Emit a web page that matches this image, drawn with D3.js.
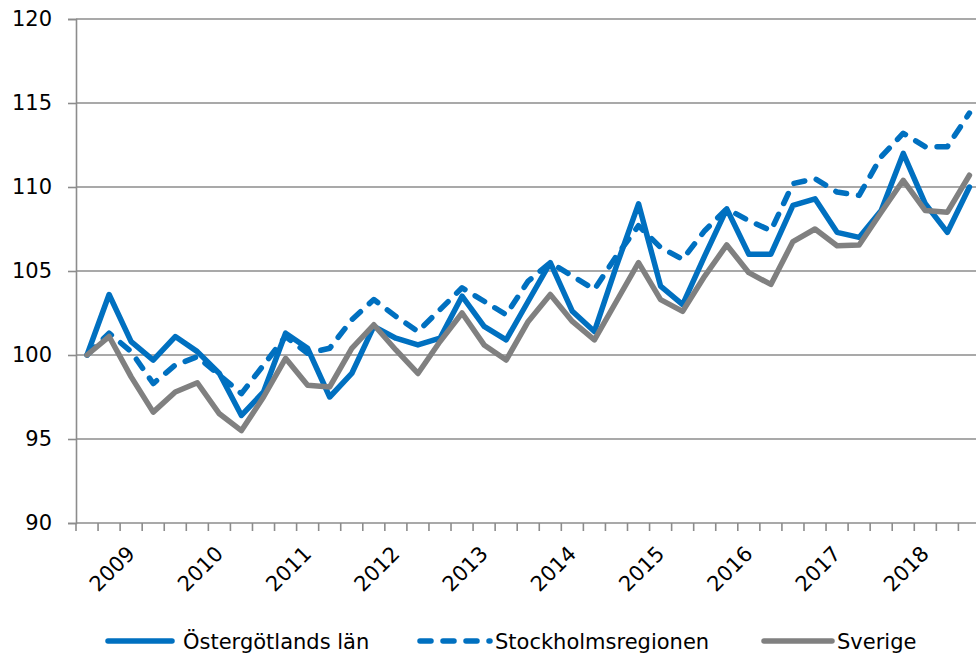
<!DOCTYPE html>
<html>
<head>
<meta charset="utf-8">
<script src="https://cdn.jsdelivr.net/npm/d3@7"></script>
<style>
  html, body { margin: 0; padding: 0; background: #ffffff; }
  svg { display: block; }
  text { font-family: "DejaVu Sans", sans-serif; fill: #000; }
</style>
</head>
<body>
<svg id="chart" width="976" height="656"></svg>
<script>
// Quarterly categories (2009 K1 .. 2019 K1)
const categories = [
  "2009K1","2009K2","2009K3","2009K4",
  "2010K1","2010K2","2010K3","2010K4",
  "2011K1","2011K2","2011K3","2011K4",
  "2012K1","2012K2","2012K3","2012K4",
  "2013K1","2013K2","2013K3","2013K4",
  "2014K1","2014K2","2014K3","2014K4",
  "2015K1","2015K2","2015K3","2015K4",
  "2016K1","2016K2","2016K3","2016K4",
  "2017K1","2017K2","2017K3","2017K4",
  "2018K1","2018K2","2018K3","2018K4",
  "2019K1"
];

const ostergotland = [
  100.0, 103.6, 100.8, 99.7,
  101.1, 100.2, 98.9, 96.4,
  97.8, 101.3, 100.4, 97.5,
  98.9, 101.7, 101.0, 100.6,
  101.0, 103.5, 101.7, 100.9,
  103.2, 105.5, 102.6, 101.4,
  105.3, 109.0, 104.1, 103.0,
  105.9, 108.7, 106.0, 106.0,
  108.9, 109.3, 107.3, 107.0,
  108.6, 112.0, 109.0, 107.3,
  110.0
];

const stockholm = [
  100.0, 101.3, 100.2, 98.3,
  99.4, 99.9, 98.8, 97.7,
  99.4, 101.1, 100.1, 100.4,
  102.1, 103.3, 102.3, 101.4,
  102.7, 104.0, 103.2, 102.4,
  104.4, 105.5, 104.7, 103.9,
  105.9, 107.7, 106.4, 105.7,
  107.4, 108.7, 108.0, 107.4,
  110.2, 110.5, 109.7, 109.5,
  111.8, 113.2, 112.4, 112.4,
  114.4
];

const sverige = [
  100.0, 101.1, 98.7, 96.6,
  97.8, 98.35, 96.5, 95.5,
  97.5, 99.8, 98.2, 98.1,
  100.4, 101.8, 100.3, 98.9,
  100.8, 102.5, 100.6, 99.7,
  102.0, 103.6, 102.0, 100.9,
  103.2, 105.5, 103.3, 102.6,
  104.7, 106.55, 104.9, 104.2,
  106.75, 107.5, 106.5, 106.55,
  108.5, 110.4, 108.6, 108.5,
  110.7
];

const yearLabels = ["2009","2010","2011","2012","2013","2014","2015","2016","2017","2018"];
const yearLabelCategories = ["2009K3","2010K3","2011K3","2012K3","2013K3","2014K3","2015K3","2016K3","2017K3","2018K3"];
const yTicks = [90, 95, 100, 105, 110, 115, 120];

const seriesNames = ["Östergötlands län", "Stockholmsregionen", "Sverige"];

// ---- drawing ----
const svg = d3.select("#chart");
const plotLeft = 76, plotTop = 19, plotBottom = 523;
const step = 22.06;
const plotRight = plotLeft + step * categories.length;

const x = d3.scaleBand().domain(categories).range([plotLeft, plotRight]).paddingInner(0).paddingOuter(0);
const y = d3.scaleLinear().domain([90, 120]).range([plotBottom, plotTop]);
const cx = c => x(c) + x.bandwidth() / 2;

const gridColor = "#8c8c8c";

// horizontal gridlines
svg.append("g").selectAll("line").data(yTicks.filter(v => v > 90)).join("line")
  .attr("x1", plotLeft).attr("x2", 976)
  .attr("y1", d => y(d)).attr("y2", d => y(d))
  .attr("stroke", gridColor).attr("stroke-width", 1.6);

// y axis
const yAxis = d3.axisLeft(y).tickValues(yTicks).tickSize(8).tickPadding(16).tickFormat(d3.format("d"));
const gy = svg.append("g").attr("transform", `translate(${plotLeft},0)`).call(yAxis);
gy.select(".domain").attr("stroke", gridColor).attr("stroke-width", 1.6);
gy.selectAll(".tick line").attr("stroke", gridColor).attr("stroke-width", 1.6);
gy.selectAll(".tick text").attr("font-size", 21).attr("font-family", "DejaVu Sans").attr("fill", "#000");

// x axis: ticks between categories
const boundaries = categories.map(c => x(c)).concat([plotRight]);
svg.append("line")
  .attr("x1", plotLeft).attr("x2", 976)
  .attr("y1", plotBottom).attr("y2", plotBottom)
  .attr("stroke", gridColor).attr("stroke-width", 1.6);
svg.append("g").selectAll("line").data(boundaries).join("line")
  .attr("x1", d => d).attr("x2", d => d)
  .attr("y1", plotBottom).attr("y2", plotBottom + 8)
  .attr("stroke", gridColor).attr("stroke-width", 1.6);

// year labels, rotated -45
svg.append("g").selectAll("text").data(yearLabels).join("text")
  .attr("transform", (d, i) => `translate(${cx(yearLabelCategories[i]) + 5},${plotBottom + 32}) rotate(-45)`)
  .attr("text-anchor", "end")
  .attr("font-size", 21)
  .text(d => d);

// lines
const line = d3.line().x((d, i) => cx(categories[i])).y(d => y(d));
const series = [
  { name: seriesNames[0], values: ostergotland, color: "#0070c0", dash: null },
  { name: seriesNames[1], values: stockholm, color: "#0070c0", dash: "11,12" },
  { name: seriesNames[2], values: sverige, color: "#808080", dash: null }
];

svg.append("g").selectAll("path").data(series).join("path")
  .attr("d", d => line(d.values))
  .attr("fill", "none")
  .attr("stroke", d => d.color)
  .attr("stroke-width", 5.5)
  .attr("stroke-linejoin", "round")
  .attr("stroke-linecap", "round")
  .attr("stroke-dasharray", d => d.dash);

// legend
const legendY = 641;
const legendItems = [
  { s: series[0], x1: 108, x2: 172, tx: 183 },
  { s: series[1], x1: 420, x2: 490, tx: 495 },
  { s: series[2], x1: 764, x2: 832, tx: 837 }
];
const lg = svg.append("g");
legendItems.forEach(it => {
  lg.append("line")
    .attr("x1", it.x1).attr("x2", it.x2)
    .attr("y1", legendY).attr("y2", legendY)
    .attr("stroke", it.s.color).attr("stroke-width", 5.5)
    .attr("stroke-linecap", "round")
    .attr("stroke-dasharray", it.s.dash);
  lg.append("text")
    .attr("x", it.tx).attr("y", legendY)
    .attr("dy", "0.36em")
    .attr("font-size", 21)
    .text(it.s.name);
});
</script>
</body>
</html>
